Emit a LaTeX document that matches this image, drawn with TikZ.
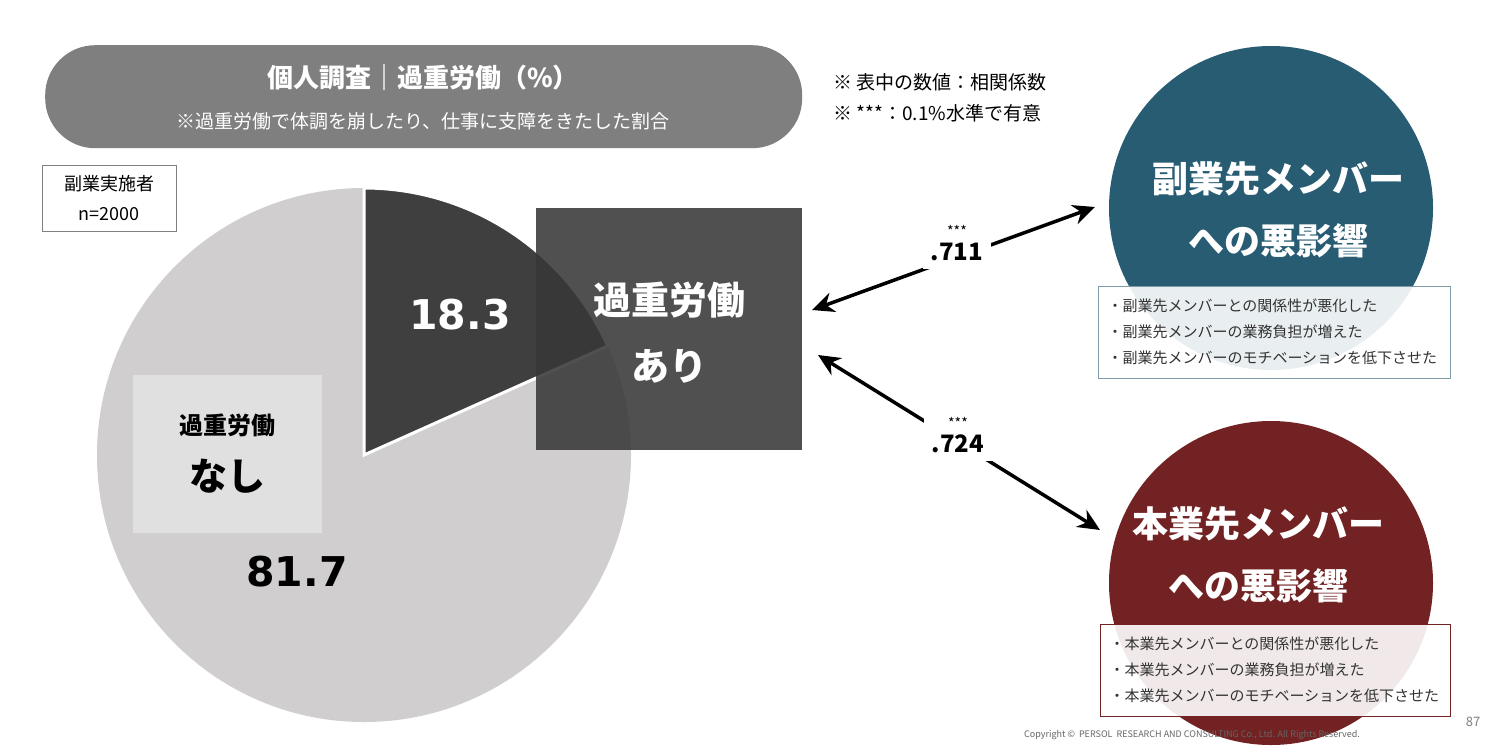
\documentclass[tikz,border=0pt]{standalone}
\usepackage{fontspec}
\setmainfont{Noto Sans CJK JP}
\newfontfamily\numfont{DejaVu Sans}
\usetikzlibrary{arrows.meta}
\definecolor{hdr}{HTML}{7F7F7F}
\definecolor{pielight}{HTML}{D0CECF}
\definecolor{piedark}{HTML}{3F3F3F}
\definecolor{bluec}{HTML}{275C73}
\definecolor{redc}{HTML}{722222}
\tikzset{
  fs/.style={font=\fontsize{#1}{#1}\selectfont},
  arr/.style={line width=3.5pt,{Stealth[length=22pt,width=20pt]}-{Stealth[length=22pt,width=20pt]}},
  lbl/.style={fill=white,inner xsep=8pt,inner ysep=8pt,align=center,font=\bfseries\fontsize{24}{20}\selectfont},
  listbox/.style={draw,line width=1pt,fill=white,fill opacity=0.9},
  listtxt/.style={anchor=west,align=left,font=\fontsize{15}{26}\selectfont,text=black!80},
}
\begin{document}
\begin{tikzpicture}[x=1pt,y=-1pt]
\useasboundingbox (0,0) rectangle (1504,748);
\fill[white] (0,0) rectangle (1504,748);
% header
\node[fill=hdr,rounded corners=50pt,minimum width=757pt,minimum height=103pt,anchor=north west] (hdr) at (45,45) {};
\node[text=white,font=\bfseries\fontsize{26}{30}\selectfont] (t1) at (423,78) {個人調査｜過重労働（\%）};
\node[text=white,fs=19] (t2) at (423,121) {※過重労働で体調を崩したり、仕事に支障をきたした割合};
% notes
\node[anchor=west,fs=19] (n1) at (830,82) {※ 表中の数値：相関係数};
\node[anchor=west,fs=19] (n2) at (830,113) {※ ***：0.1\%水準で有意};
% sample box
\node[draw=black!50,line width=1pt,minimum width=134pt,minimum height=66pt,anchor=north west] (smp) at (42,165) {};
\node[align=center,font=\fontsize{18}{30}\selectfont] (smpt) at (109,198) {副業実施者\\n=2000};
% pie
\coordinate (pc) at (364,455);
\fill[pielight] (pc) circle[radius=267];
\fill[piedark,draw=white,line width=3pt] (pc) -- ++(0,-267) arc[start angle=-90,end angle=-24.1,radius=267] -- cycle;
\node[fill=black!12,minimum width=189pt,minimum height=158pt,anchor=north west] (nash) at (133,375) {};
\node[font=\bfseries\fontsize{24}{28}\selectfont] (nasht1) at (227,425) {過重労働};
\node[font=\bfseries\fontsize{38}{40}\selectfont] (nasht2) at (227,476) {なし};
\node[text=white,font=\numfont\bfseries\fontsize{41}{41}\selectfont] (p1) at (460,315) {18.3};
\node[font=\numfont\bfseries\fontsize{41}{41}\selectfont] (p2) at (297,572) {81.7};
% central box
\node[fill=black!78,fill opacity=0.88,minimum width=266pt,minimum height=242pt,anchor=north west] (ari) at (536,208) {};
\node[text=white,align=center,font=\bfseries\fontsize{38}{66}\selectfont] (arit) at (669,333) {過重労働\\あり};
% circles
\node[circle,fill=bluec,minimum size=324pt] (c1) at (1271,208) {};
\node[text=white,align=center,font=\bfseries\fontsize{36}{62}\selectfont] (c1t) at (1278,210) {副業先メンバー\\への悪影響};
\node[listbox,draw=bluec!60,minimum width=352pt,minimum height=92pt,anchor=north west] (b1) at (1098,286) {};
\node[listtxt] (b1t) at (1104,332) {・副業先メンバーとの関係性が悪化した\\・副業先メンバーの業務負担が増えた\\・副業先メンバーのモチベーションを低下させた};
\node[circle,fill=redc,minimum size=324pt] (c2) at (1271,583) {};
\node[text=white,align=center,font=\bfseries\fontsize{36}{62}\selectfont] (c2t) at (1258,555) {本業先メンバー\\への悪影響};
\node[listbox,draw=redc,minimum width=350pt,minimum height=92pt,anchor=north west] (b2) at (1100,624) {};
\node[listtxt] (b2t) at (1106,670) {・本業先メンバーとの関係性が悪化した\\・本業先メンバーの業務負担が増えた\\・本業先メンバーのモチベーションを低下させた};
% arrows
\coordinate (a1s) at (812,310);
\coordinate (a1e) at (1095,207);
\coordinate (a2s) at (818,355);
\coordinate (a2e) at (1100,530);
\draw[arr] (a1s) -- (a1e);
\draw[arr] (a2s) -- (a2e);
\node[lbl] (l1) at (957,243) {\fontsize{14}{10}\selectfont\mdseries ***\\[4pt].711};
\node[lbl] (l2) at (958,435) {\fontsize{14}{10}\selectfont\mdseries ***\\[4pt].724};
% footer
\node[fs=9,text=black!60] (cp) at (1192,735) {Copyright ©\ \ PERSOL\ \ RESEARCH AND CONSULTING Co., Ltd. All Rights Reserved.};
\node[fs=13,text=black!50] (pg) at (1473,722) {87};
\end{tikzpicture}
\end{document}
